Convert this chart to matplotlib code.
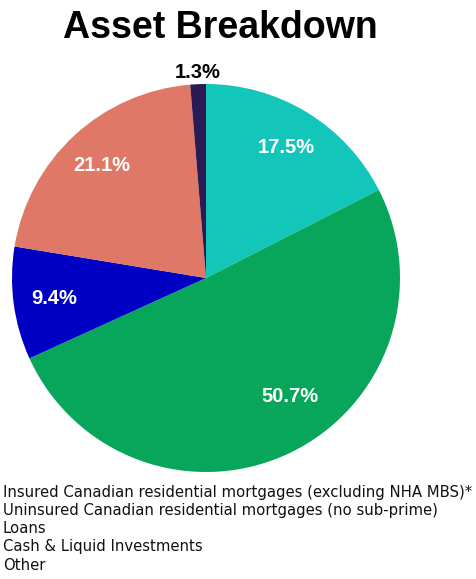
import matplotlib
matplotlib.use("Agg")
import matplotlib.pyplot as plt

# slices, clockwise from 12 o'clock
shares = [17.5, 50.7, 9.4, 21.1, 1.3]
slice_colors = ["#12c6b9", "#07a65a", "#0000c4", "#e07868", "#2c1a55"]
legend_labels = [
    "Insured Canadian residential mortgages (excluding NHA MBS)*",
    "Uninsured Canadian residential mortgages (no sub-prime)",
    "Loans",
    "Cash & Liquid Investments",
    "Other",
]

W, H = 477, 579
fig = plt.figure(figsize=(W / 100, H / 100), dpi=100)

# pie centre / radius in pixels
cx, cy, r = 206, 278, 194
ax = fig.add_axes([(cx - r) / W, 1 - (cy + r) / H, 2 * r / W, 2 * r / H])

wedges, texts, autotexts = ax.pie(
    shares, colors=slice_colors, startangle=90, counterclock=False,
    autopct="%1.1f%%", pctdistance=0.79, labeldistance=None,
    wedgeprops=dict(linewidth=0),
    textprops=dict(color="white", fontsize=14.5, fontweight="bold", family="Liberation Sans"),
)
ax.set_xlim(-1, 1)
ax.set_ylim(-1, 1)
ax.axis("off")

# big green label sits higher up in the original
autotexts[1].set_position((84 / r, -119 / r))

# small slice label goes outside, in black
autotexts[-1].set_color("black")
x, y = autotexts[-1].get_position()
scale = 1.06 / 0.79
autotexts[-1].set_position((x * scale, y * scale))

fig.text(220 / W, 1 - 28 / H, "Asset Breakdown", ha="center", va="center",
         fontsize=27, fontweight="bold", family="Liberation Sans")

for i, lab in enumerate(legend_labels):
    fig.text(3 / W, 1 - (492 + 18.3 * i) / H, lab, ha="left", va="center",
             fontsize=10.75, family="DejaVu Sans", color="#111111")

fig.savefig("out.png", dpi=100)
